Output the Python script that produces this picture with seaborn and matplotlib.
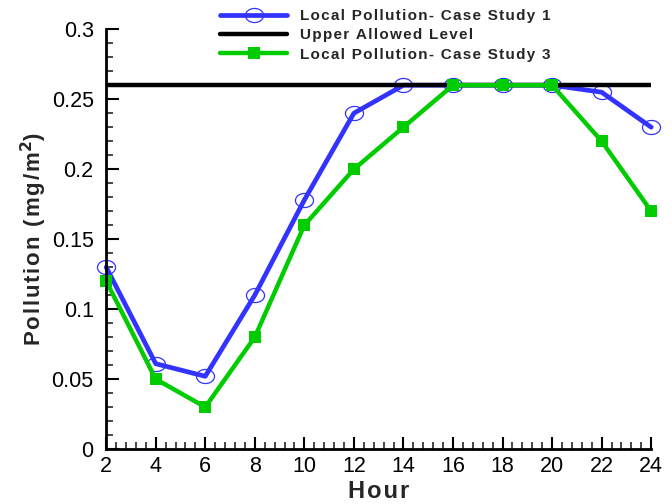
import numpy as np
import pandas as pd
import matplotlib
matplotlib.use("Agg")
import matplotlib.pyplot as plt
from matplotlib.path import Path
from matplotlib.ticker import MultipleLocator
import seaborn as sns

hours = [2, 4, 6, 8, 10, 12, 14, 16, 18, 20, 22, 24]
case1 = [0.13, 0.061, 0.052, 0.11, 0.178, 0.24, 0.26, 0.26, 0.26, 0.26, 0.255, 0.23]
case3 = [0.12, 0.05, 0.03, 0.08, 0.16, 0.20, 0.23, 0.26, 0.26, 0.26, 0.22, 0.17]
upper_level = 0.26
ytick_vals = [0, 0.05, 0.1, 0.15, 0.2, 0.25, 0.3]
ytick_labels = ["0", "0.05", "0.1", "0.15", "0.2", "0.25", "0.3"]

sns.set_theme(style="ticks")
plt.rcParams["font.family"] = ["Liberation Sans", "DejaVu Sans"]

HS = "\u200a"


def tracked(s):
    """Open up letter spacing with hair spaces."""
    return HS.join(s)


df = pd.DataFrame({"Hour": hours, "case1": case1, "case3": case3,
                   "upper": [upper_level] * len(hours)})

# slightly flattened ellipse for the open markers
t = np.linspace(0, 2 * np.pi, 60)
ellipse = Path(np.column_stack([np.cos(t), 0.78 * np.sin(t)]), closed=True)

fig, ax = plt.subplots(figsize=(6.72, 5.04), dpi=100)
fig.subplots_adjust(left=0.158, right=0.969, bottom=0.109, top=0.942)

blue = "#3333ff"
green = "#00cc00"

sns.lineplot(data=df, x="Hour", y="case1", ax=ax, color=blue, lw=3.4,
             marker=ellipse, markersize=13, markerfacecolor="none",
             markeredgecolor=blue, markeredgewidth=0.9, clip_on=False,
             label=tracked("Local Pollution- Case Study 1"))
sns.lineplot(data=df, x="Hour", y="upper", ax=ax, color="black", lw=3.2,
             label=tracked("Upper Allowed Level"))
sns.lineplot(data=df, x="Hour", y="case3", ax=ax, color=green, lw=3.2,
             marker="s", markersize=9, markeredgewidth=0, clip_on=False,
             label=tracked("Local Pollution- Case Study 3"))

ax.set_xlim(2, 24)
ax.set_ylim(0, 0.3)
ax.xaxis.set_major_locator(MultipleLocator(2))
ax.xaxis.set_minor_locator(MultipleLocator(0.4))
ax.yaxis.set_minor_locator(MultipleLocator(0.01))
ax.set_yticks(ytick_vals)
ax.set_yticklabels(ytick_labels)

ax.tick_params(which="major", direction="in", length=9, width=1.5,
               labelsize=15.5, colors="black")
ax.tick_params(axis="y", which="major", pad=9)
ax.tick_params(axis="x", which="major", pad=5)
ax.tick_params(which="minor", direction="in", length=5, width=1.2)

sns.despine(ax=ax)
for s in ("left", "bottom"):
    ax.spines[s].set_linewidth(2)
    ax.spines[s].set_color("black")

ax.set_xlabel(tracked("Hour"), fontsize=17, fontweight="bold", labelpad=2)
ax.set_ylabel(tracked("Pollution (mg/m") + "$^\\mathbf{2}$)", fontsize=16,
              fontweight="bold", labelpad=2)

leg = ax.legend(loc="upper left", bbox_to_anchor=(0.209, 1.048), frameon=False,
                fontsize=11, handlelength=4.4, handletextpad=0.8,
                labelspacing=0.35, borderpad=0, borderaxespad=0)
for txt in leg.get_texts():
    txt.set_fontweight("bold")

fig.savefig("out.png", dpi=100)
